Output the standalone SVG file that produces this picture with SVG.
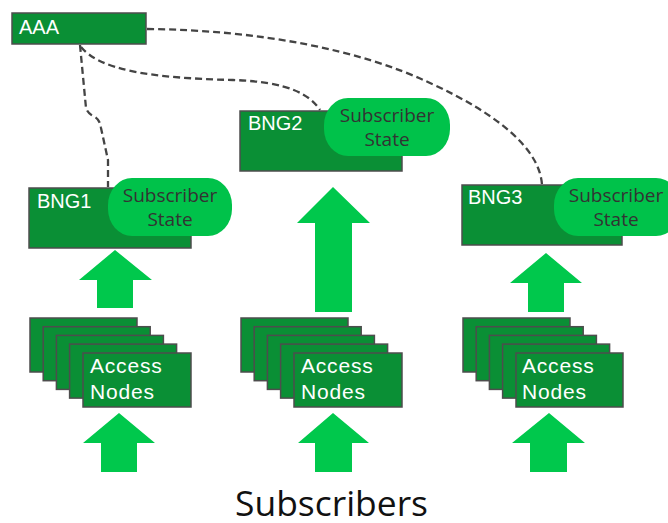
<svg xmlns="http://www.w3.org/2000/svg" width="668" height="523" viewBox="0 0 668 523">
<style>
.box{fill:#0a8f35;stroke:#4d4d4d;stroke-width:1.5}
.pill{fill:#00c24a}
.arrow{fill:#00c84c}
.lbl{font-family:"Liberation Sans",Arial,sans-serif;font-size:20px;fill:#ffffff}
.an{font-family:"Liberation Sans",Arial,sans-serif;font-size:21px;fill:#ffffff;letter-spacing:0.8px}
.ss{font-family:"Open Sans","DejaVu Sans",sans-serif;font-size:19px;fill:#333333;text-anchor:middle}
.dash{fill:none;stroke:#444444;stroke-width:2.3;stroke-dasharray:7 4}
</style>
<rect width="668" height="523" fill="#ffffff"/>
<g id="connectors">
<path class="dash" d="M80,45 L86,108 Q88,114 95,117 Q100,120 101,128 L108,160 L108,187"/>
<path class="dash" d="M81,47 C100,70 150,78 233,80 C290,82 310,95 320,110"/>
<path class="dash" d="M147,29 C260,30 360,50 430,83 C500,115 540,150 542,185"/>
</g>
<g id="AAA">
<rect class="box" x="12" y="13" width="134" height="31"/>
<text class="lbl" x="19" y="34" font-size="21">AAA</text>
</g>
<g id="BNG1">
<rect class="box" x="29" y="188" width="162" height="60"/>
<text class="lbl" x="37" y="208">BNG1</text>
<rect class="pill" x="108" y="178" width="124" height="58" rx="24" ry="27"/>
<text class="ss" x="170" y="202">Subscriber</text>
<text class="ss" x="170" y="226">State</text>
</g>
<g id="BNG2">
<rect class="box" x="240" y="111" width="162" height="60"/>
<text class="lbl" x="248" y="130">BNG2</text>
<rect class="pill" x="324" y="98" width="126" height="58" rx="24" ry="27"/>
<text class="ss" x="387" y="122">Subscriber</text>
<text class="ss" x="387" y="146">State</text>
</g>
<g id="BNG3">
<rect class="box" x="462" y="185" width="160" height="60"/>
<text class="lbl" x="468" y="204">BNG3</text>
<rect class="pill" x="554" y="178" width="126" height="58" rx="24" ry="27"/>
<text class="ss" x="616" y="202">Subscriber</text>
<text class="ss" x="616" y="226">State</text>
</g>
<g id="arrows-up">
<polygon class="arrow" points="115,250 152,280 133,280 133,308 97,308 97,280 79,280"/>
<polygon class="arrow" points="333,187 370,223 352,223 352,312 315,312 315,223 297,223"/>
<polygon class="arrow" points="546,253 582,283 564,283 564,312 528,312 528,283 510,283"/>
<polygon class="arrow" points="119,413 155,443 137,443 137,472 101,472 101,443 83,443"/>
<polygon class="arrow" points="333,413 369,443 352,443 352,472 315,472 315,443 298,443"/>
<polygon class="arrow" points="549,413 585,443 567,443 567,472 530,472 530,443 512,443"/>
</g>
<g id="access1">
<rect class="box" x="30" y="318" width="107" height="54"/>
<rect class="box" x="43.2" y="326.7" width="107" height="54"/>
<rect class="box" x="56.4" y="335.4" width="107" height="54"/>
<rect class="box" x="69.6" y="344.1" width="107" height="54"/>
<rect class="box" x="83" y="353" width="108" height="54"/>
<text class="an" x="90" y="373">Access</text>
<text class="an" x="90" y="399">Nodes</text>
</g>
<g id="access2">
<rect class="box" x="241" y="318" width="107" height="54"/>
<rect class="box" x="254.2" y="326.7" width="107" height="54"/>
<rect class="box" x="267.4" y="335.4" width="107" height="54"/>
<rect class="box" x="280.6" y="344.1" width="107" height="54"/>
<rect class="box" x="294" y="353" width="108" height="54"/>
<text class="an" x="301" y="373">Access</text>
<text class="an" x="301" y="399">Nodes</text>
</g>
<g id="access3">
<rect class="box" x="463" y="318" width="107" height="54"/>
<rect class="box" x="476.2" y="326.7" width="107" height="54"/>
<rect class="box" x="489.4" y="335.4" width="107" height="54"/>
<rect class="box" x="502.6" y="344.1" width="107" height="54"/>
<rect class="box" x="516" y="353" width="107" height="54"/>
<text class="an" x="522" y="373">Access</text>
<text class="an" x="522" y="399">Nodes</text>
</g>
<g id="subscribers">
<text x="235" y="516" font-family="'Open Sans','DejaVu Sans',sans-serif" font-size="35" fill="#111111" textLength="193" lengthAdjust="spacingAndGlyphs">Subscribers</text>
</g>
</svg>
